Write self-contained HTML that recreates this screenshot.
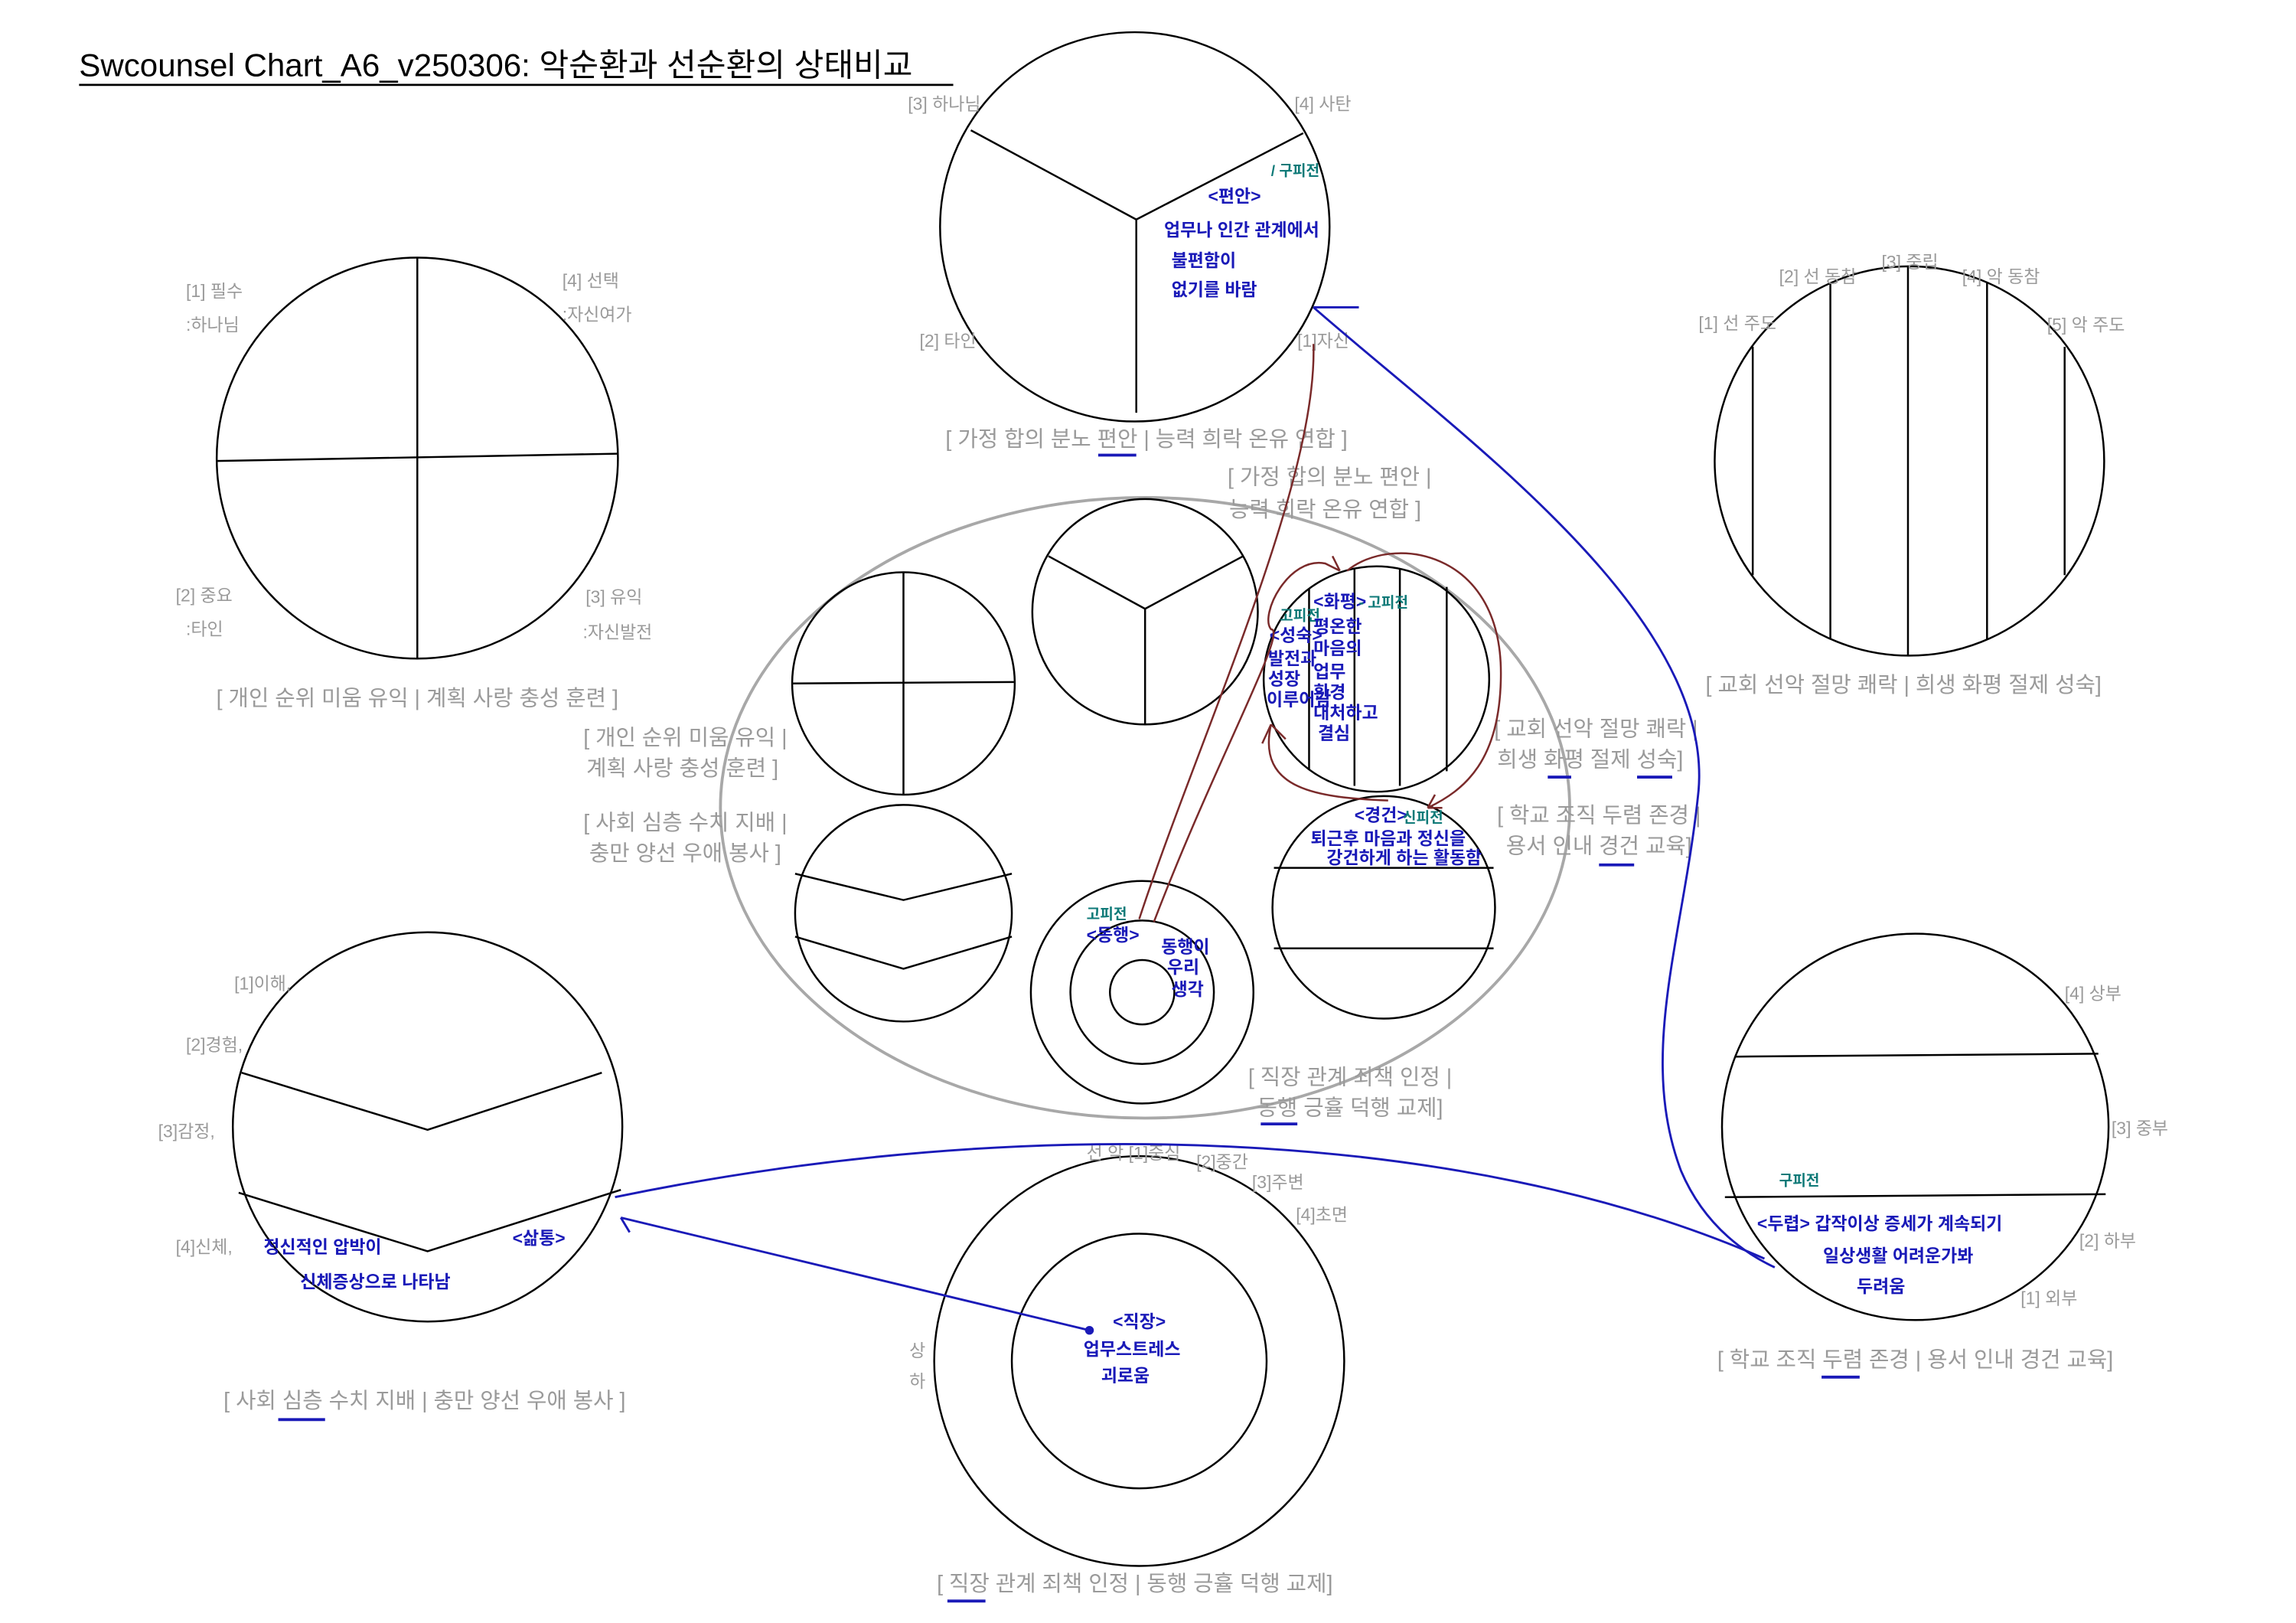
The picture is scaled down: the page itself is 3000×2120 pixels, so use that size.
<!DOCTYPE html>
<html><head><meta charset="utf-8"><style>
html,body{margin:0;padding:0;background:#fff;}
svg{display:block;}
.g{fill:#9a9a9a;font-family:"Liberation Sans","Noto Sans CJK KR",sans-serif;font-size:12px;}
.c{fill:#9a9a9a;font-family:"Liberation Sans","Noto Sans CJK KR",sans-serif;font-size:15px;text-anchor:middle;}
.h{fill:#1a1ab8;font-family:"Liberation Sans","Noto Sans CJK KR",sans-serif;font-size:12px;font-weight:bold;}
.t{fill:#0e7a78;font-family:"Liberation Sans","Noto Sans CJK KR",sans-serif;font-size:10px;font-weight:bold;}
.k{fill:none;stroke:#000;stroke-width:1.3;}
.u{stroke:#1a1ab8;stroke-width:2;}
.b{fill:none;stroke:#1a1ab8;stroke-width:1.5;}
.r{fill:none;stroke:#7a2a2a;stroke-width:1.3;}
</style></head><body>
<svg width="3000" height="2120" viewBox="0 0 1568 1109" preserveAspectRatio="none" xmlns="http://www.w3.org/2000/svg">
<text x="54" y="52" font-family="Liberation Sans,Noto Sans CJK KR,sans-serif" font-size="22" fill="#000">Swcounsel Chart_A6_v250306: 악순환과 선순환의 상태비교</text>
<line x1="54" y1="58" x2="651" y2="58" stroke="#000" stroke-width="1.5"/>

<!-- Circle A -->
<circle class="k" cx="285" cy="313" r="137"/>
<line class="k" x1="285" y1="176" x2="285" y2="450"/>
<line class="k" x1="148" y1="315" x2="422" y2="310"/>
<text class="g" x="127" y="203">[1] 필수</text><text class="g" x="127" y="226">:하나님</text>
<text class="g" x="384" y="196">[4] 선택</text><text class="g" x="384" y="219">:자신여가</text>
<text class="g" x="120" y="411">[2] 중요</text><text class="g" x="127" y="434">:타인</text>
<text class="g" x="400" y="412">[3] 유익</text><text class="g" x="398" y="436">:자신발전</text>
<text class="c" x="285" y="482">[ 개인 순위 미움 유익 | 계획 사랑 충성 훈련 ]</text>

<!-- Circle B -->
<circle class="k" cx="775" cy="155" r="133"/>
<line class="k" x1="776" y1="150" x2="663" y2="89"/>
<line class="k" x1="776" y1="150" x2="890" y2="91"/>
<line class="k" x1="776" y1="150" x2="776" y2="282"/>
<text class="g" x="620" y="75">[3] 하나님</text><text class="g" x="884" y="75">[4] 사탄</text>
<text class="g" x="628" y="237">[2] 타인</text><text class="g" x="886" y="237">[1]자신</text>
<text class="c" x="783" y="305">[ 가정 합의 분노 편안 | 능력 희락 온유 연합 ]</text>
<line class="u" x1="750" y1="311" x2="776" y2="311"/>
<text class="t" x="868" y="120">/ 구피전</text>
<text class="h" x="825" y="138">&lt;편안&gt;</text>
<text class="h" x="795" y="161">업무나 인간 관계에서</text>
<text class="h" x="800" y="182">불편함이</text>
<text class="h" x="800" y="202">없기를 바람</text>

<!-- Circle C -->
<circle class="k" cx="1304" cy="315" r="133"/>
<line class="k" x1="1197" y1="237" x2="1197" y2="393"/>
<line class="k" x1="1250" y1="193" x2="1250" y2="437"/>
<line class="k" x1="1303" y1="182" x2="1303" y2="448"/>
<line class="k" x1="1357" y1="193" x2="1357" y2="437"/>
<line class="k" x1="1410" y1="237" x2="1410" y2="393"/>
<text class="g" x="1160" y="225">[1] 선 주도</text><text class="g" x="1215" y="193">[2] 선 동참</text>
<text class="g" x="1285" y="183">[3] 중립</text><text class="g" x="1340" y="193">[4] 악 동참</text>
<text class="g" x="1398" y="226">[5] 악 주도</text>
<text class="c" x="1300" y="473">[ 교회 선악 절망 쾌락 | 희생 화평 절제 성숙]</text>

<!-- Big ellipse -->
<ellipse cx="782" cy="552" rx="290" ry="212" fill="none" stroke="#a8a8a8" stroke-width="2"/>
<circle class="k" cx="617" cy="467" r="76"/>
<line class="k" x1="617" y1="391" x2="617" y2="543"/><line class="k" x1="541" y1="467" x2="693" y2="466"/>
<circle class="k" cx="782" cy="418" r="77"/>
<line class="k" x1="782" y1="416" x2="716" y2="380"/><line class="k" x1="782" y1="416" x2="849" y2="380"/><line class="k" x1="782" y1="416" x2="782" y2="495"/>
<circle class="k" cx="940" cy="464" r="77"/>
<line class="k" x1="894" y1="402" x2="894" y2="526"/><line class="k" x1="925" y1="389" x2="925" y2="537"/>
<line class="k" x1="956" y1="389" x2="956" y2="537"/><line class="k" x1="988" y1="401" x2="988" y2="527"/>
<circle class="k" cx="617" cy="624" r="74"/>
<polyline class="k" points="543,597 617,615 691,597"/><polyline class="k" points="543,640 617,662 691,640"/>
<circle class="k" cx="780" cy="678" r="76"/><circle class="k" cx="780" cy="678" r="49"/><circle class="k" cx="780" cy="678" r="22"/>
<circle class="k" cx="945" cy="620" r="76"/>
<line class="k" x1="870" y1="593" x2="1020" y2="593"/><line class="k" x1="870" y1="648" x2="1020" y2="648"/>

<text class="c" x="908" y="331">[ 가정 합의 분노 편안 |</text><text class="c" x="905" y="353">능력 희락 온유 연합 ]</text>
<text class="c" x="468" y="509">[ 개인 순위 미움 유익 |</text><text class="c" x="466" y="530">계획 사랑 충성 훈련 ]</text>
<text class="c" x="468" y="567">[ 사회 심층 수치 지배 |</text><text class="c" x="468" y="588">충만 양선 우애 봉사 ]</text>
<text class="c" x="1090" y="503">[ 교회 선악 절망 쾌락 |</text><text class="c" x="1086" y="524">희생 화평 절제 성숙]</text>
<line class="u" x1="1057" y1="531" x2="1073" y2="531"/><line class="u" x1="1118" y1="531" x2="1142" y2="531"/>
<text class="c" x="1092" y="562">[ 학교 조직 두렴 존경 |</text><text class="c" x="1092" y="583">용서 인내 경건 교육]</text>
<line class="u" x1="1092" y1="591" x2="1116" y2="591"/>
<text class="c" x="922" y="741">[ 직장 관계 죄책 인정 |</text><text class="c" x="922" y="762">동행 긍휼 덕행 교제]</text>
<line class="u" x1="861" y1="768" x2="886" y2="768"/>

<!-- handwriting in small circles -->
<text class="t" x="874" y="424">고피전</text>
<text class="h" x="867" y="438" font-size="9">&lt;성숙&gt;</text>
<text class="h" x="866" y="454" font-size="9">발전과</text><text class="h" x="866" y="468" font-size="9">성장</text><text class="h" x="865" y="482" font-size="9">이루어감</text>
<text class="h" x="897" y="415" font-size="9">&lt;화평&gt;</text><text class="t" x="928" y="415">- 고피전</text>
<text class="h" x="897" y="432" font-size="9">평온한</text><text class="h" x="897" y="447" font-size="9">마음의</text>
<text class="h" x="897" y="463" font-size="9">업무</text><text class="h" x="897" y="477" font-size="9">환경</text>
<text class="h" x="897" y="491" font-size="9">대처하고</text><text class="h" x="900" y="505" font-size="9">결심</text>
<text class="h" x="925" y="561" font-size="9">&lt;경건&gt;</text><text class="t" x="958" y="562">신피전</text>
<text class="h" x="895" y="577" font-size="9">퇴근후 마음과 정신을</text>
<text class="h" x="906" y="590" font-size="9">강건하게 하는 활동함</text>
<text class="t" x="742" y="628">고피전</text>
<text class="h" x="742" y="643" font-size="9">&lt;동행&gt;</text>
<text class="h" x="793" y="651" font-size="9">동행이</text><text class="h" x="797" y="665" font-size="9">우리</text><text class="h" x="800" y="680" font-size="9">생각</text>

<!-- Circle G -->
<circle class="k" cx="292" cy="770" r="133"/>
<polyline class="k" points="165,733 292,772 411,733"/>
<polyline class="k" points="163,815 292,855 424,813"/>
<text class="g" x="160" y="676">[1]이해,</text><text class="g" x="127" y="718">[2]경험,</text>
<text class="g" x="108" y="777">[3]감정,</text><text class="g" x="120" y="856">[4]신체,</text>
<text class="h" x="350" y="850">&lt;삶통&gt;</text>
<text class="h" x="180" y="856">정신적인 압박이</text>
<text class="h" x="205" y="880">신체증상으로 나타남</text>
<text class="c" x="290" y="962">[ 사회 심층 수치 지배 | 충만 양선 우애 봉사 ]</text>
<line class="u" x1="190" y1="970" x2="222" y2="970"/>

<!-- Circle H -->
<circle class="k" cx="778" cy="930" r="140"/>
<circle class="k" cx="778" cy="930" r="87"/>
<text class="g" x="742" y="792">선 악 [1]중심</text><text class="g" x="817" y="798">[2]중간</text>
<text class="g" x="855" y="812">[3]주변</text><text class="g" x="885" y="834">[4]초면</text>
<text class="g" x="621" y="927">상</text><text class="g" x="621" y="948">하</text>
<text class="h" x="760" y="907">&lt;직장&gt;</text>
<text class="h" x="740" y="926">업무스트레스</text>
<text class="h" x="752" y="944">괴로움</text>
<circle cx="744" cy="909" r="3" fill="#1a1ab8"/>
<text class="c" x="775" y="1087">[ 직장 관계 죄책 인정 | 동행 긍휼 덕행 교제]</text>
<line class="u" x1="647" y1="1094" x2="673" y2="1094"/>

<!-- Circle I -->
<circle class="k" cx="1308" cy="770" r="132"/>
<line class="k" x1="1185" y1="722" x2="1433" y2="720"/>
<line class="k" x1="1178" y1="818" x2="1438" y2="816"/>
<text class="g" x="1410" y="683">[4] 상부</text><text class="g" x="1442" y="775">[3] 중부</text>
<text class="g" x="1420" y="852">[2] 하부</text><text class="g" x="1380" y="891">[1] 외부</text>
<text class="t" x="1215" y="810">구피전</text>
<text class="h" x="1200" y="840">&lt;두렵&gt; 갑작이상 증세가 계속되기</text>
<text class="h" x="1245" y="862">일상생활 어려운가봐</text>
<text class="h" x="1268" y="883">두려움</text>
<text class="c" x="1308" y="934">[ 학교 조직 두렴 존경 | 용서 인내 경건 교육]</text>
<line class="u" x1="1244" y1="941" x2="1270" y2="941"/>

<!-- blue connectors -->
<path class="b" d="M897,210 C1000,300 1170,420 1160,540 C1150,640 1118,720 1148,800 C1165,840 1195,858 1212,866"/>
<line class="b" x1="897" y1="210" x2="928" y2="210"/>
<path class="b" d="M420,818 C700,760 1000,770 1205,860"/>
<line class="b" x1="424" y1="832" x2="744" y2="909"/>
<line class="b" x1="424" y1="832" x2="430" y2="842"/>

<!-- red connectors -->
<path class="r" d="M778,628 C820,500 900,330 897,235"/>
<path class="r" d="M788,630 C830,520 880,430 868,430 C860,420 880,380 905,385 L915,390"/>
<path class="r" d="M920,390 C950,365 1025,375 1025,460 C1025,520 1000,540 975,552"/>
<path class="r" d="M948,547 C900,545 858,540 868,495"/>
<path class="r" d="M868,495 L862,508 M868,495 L878,505"/>
<path class="r" d="M975,552 L985,552 M975,552 L980,543"/>
<path class="r" d="M915,390 L910,380"/>
</svg>
</body></html>
